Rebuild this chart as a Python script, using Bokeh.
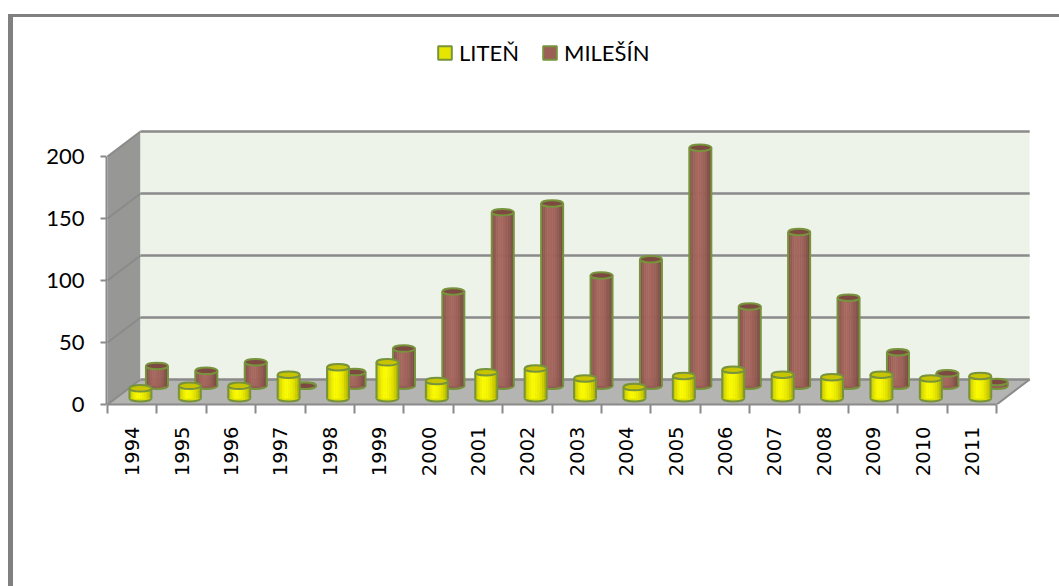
import math
from bokeh.plotting import figure
from bokeh.models import Range1d, FixedTicker, Legend, LegendItem
from bokeh.core.properties import value
from bokeh.embed import file_html
from bokeh.resources import INLINE

# ---------------- data ----------------
years = ["1994", "1995", "1996", "1997", "1998", "1999", "2000", "2001", "2002",
         "2003", "2004", "2005", "2006", "2007", "2008", "2009", "2010", "2011"]
liten = [8, 10, 10, 19, 25, 29, 14, 21, 24, 16, 9, 18, 23, 19, 17, 19, 16, 18]
milesin = [16, 12, 19, 0, 11, 30, 76, 140, 147, 89, 102, 192, 64, 124, 71, 27, 10, 3]
y_ticks = [0, 50, 100, 150, 200]
series_names = ["LITEŇ", "MILEŠÍN"]

# ---------------- geometry (pseudo 3-D) ----------------
PX_X = 49.4          # px per category
PX_Y = 1.24          # px per value unit
DX = 33 / PX_X       # depth offset in x units
DY = 25 / PX_Y       # depth offset in y units
BAR_W = 0.445
ELL_H = 6.5 / PX_Y
n = len(years)
XL, XR = -0.5, n - 0.5
YMAX = y_ticks[-1]

OUT = "#77933c"
GRID = "#8a8a8a"

p = figure(output_backend="svg", toolbar_location=None,
           frame_width=953, frame_height=387,
           min_border_left=93, min_border_right=0, min_border_top=0, min_border_bottom=182,
           x_range=Range1d(-0.52, -0.52 + 953 / PX_X),
           y_range=Range1d(0, 387 / PX_Y))
p.outline_line_color = None
p.grid.visible = False
p.background_fill_color = "white"
p.border_fill_color = "white"
p.styles = {"border-left": "5px solid #808080", "border-top": "3px solid #808080",
            "margin-top": "14px", "margin-left": "8px"}

# side wall
p.patch(x=[XL, XL, XL + DX, XL + DX], y=[0, YMAX, YMAX + DY, DY],
        fill_color="#979895", line_color=None)
# back wall
p.quad(left=[XL + DX], right=[XR + DX], bottom=[DY], top=[YMAX + DY],
       fill_color="#eef3ea", line_color=None)
# floor
p.patch(x=[XL, XR, XR + DX, XL + DX], y=[0, 0, DY, DY],
        fill_color="#b4b5b2", line_color=None)
# gridlines on back wall and side wall
p.segment(x0=[XL + DX] * len(y_ticks), y0=[t + DY for t in y_ticks],
          x1=[XR + DX] * len(y_ticks), y1=[t + DY for t in y_ticks],
          line_color=GRID, line_width=2.5)
p.segment(x0=[XL] * len(y_ticks), y0=y_ticks,
          x1=[XL + DX] * len(y_ticks), y1=[t + DY for t in y_ticks],
          line_color=GRID, line_width=2)
p.segment(x0=[XR], y0=[0], x1=[XR + DX], y1=[DY], line_color=GRID, line_width=2)

PROFILE = [0.80, 0.89, 0.96, 1.0, 1.0, 0.98, 0.95, 0.9, 0.83, 0.74]


def shade(rgb, f):
    return "#%02x%02x%02x" % tuple(max(0, min(255, int(c * f))) for c in rgb)


def cylinders(vals, depth, rgb, top_color):
    xs = [i + depth * DX for i in range(n)]
    base = depth * DY
    tops = [base + v for v in vals]
    p.ellipse(x=xs, y=[base] * n, width=BAR_W, height=ELL_H,
              fill_color=shade(rgb, 0.9), line_color=OUT, line_width=2)
    L, R, B, T, C = [], [], [], [], []
    ns = len(PROFILE)
    for x, t in zip(xs, tops):
        for k, f in enumerate(PROFILE):
            L.append(x - BAR_W / 2 + k * BAR_W / ns)
            R.append(x - BAR_W / 2 + (k + 1) * BAR_W / ns)
            B.append(base)
            T.append(t)
            C.append(shade(rgb, f))
    p.quad(left=L, right=R, bottom=B, top=T, fill_color=C, line_color=C, line_width=0.6)
    p.segment(x0=[x - BAR_W / 2 for x in xs], y0=[base] * n,
              x1=[x - BAR_W / 2 for x in xs], y1=tops, line_color=OUT, line_width=2)
    p.segment(x0=[x + BAR_W / 2 for x in xs], y0=[base] * n,
              x1=[x + BAR_W / 2 for x in xs], y1=tops, line_color=OUT, line_width=2)
    p.ellipse(x=xs, y=tops, width=BAR_W, height=ELL_H,
              fill_color=top_color, line_color=OUT, line_width=2)


cylinders(milesin, 0.75, (166, 104, 94), "#7d4a42")
cylinders(liten, 0.25, (250, 250, 0), "#c8c400")

# legend (dummy renderers holding a single non-drawn row)
nan = float("nan")
r1 = p.quad(left=[nan], right=[nan], bottom=[nan], top=[nan],
            fill_color="#e6e600", line_color=OUT, line_width=2)
r2 = p.quad(left=[nan], right=[nan], bottom=[nan], top=[nan],
            fill_color="#9b5f55", line_color=OUT, line_width=2)
legend = Legend(items=[LegendItem(label=series_names[0], renderers=[r1]),
                       LegendItem(label=series_names[1], renderers=[r2])],
                orientation="horizontal", location=(330, 338),
                glyph_width=17, glyph_height=17, label_standoff=6, spacing=22,
                padding=0, margin=0, border_line_color=None, background_fill_alpha=0,
                label_text_font="Lato", label_text_font_size="22px",
                label_text_color="black")
p.add_layout(legend)

# axes
ya = p.yaxis[0]
ya.bounds = (0, YMAX)
ya.ticker = FixedTicker(ticks=y_ticks)
ya.minor_tick_line_color = None
ya.major_tick_in = 0
ya.major_tick_out = 6
ya.axis_line_color = GRID
ya.axis_line_width = 2
ya.major_tick_line_color = GRID
ya.major_tick_line_width = 2
ya.major_label_text_font = "Lato"
ya.major_label_text_font_size = "22px"
ya.major_label_text_color = "black"
ya.major_label_standoff = 16

xa = p.xaxis[0]
xa.bounds = (XL, XR)
xa.ticker = FixedTicker(ticks=list(range(n)), minor_ticks=[i - 0.5 for i in range(n + 1)])
xa.major_tick_out = 0
xa.major_tick_in = 0
xa.major_tick_line_color = None
xa.minor_tick_out = 9
xa.minor_tick_in = 0
xa.minor_tick_line_color = GRID
xa.minor_tick_line_width = 2
xa.axis_line_color = GRID
xa.axis_line_width = 2
xa.major_label_overrides = {i: y for i, y in enumerate(years)}
xa.major_label_orientation = math.pi / 2
xa.major_label_text_font = "DejaVu Sans"
xa.major_label_text_font_size = "19.5px"
xa.major_label_text_color = "black"
xa.major_label_standoff = 13

open("out.html", "w").write(file_html(p, INLINE))
